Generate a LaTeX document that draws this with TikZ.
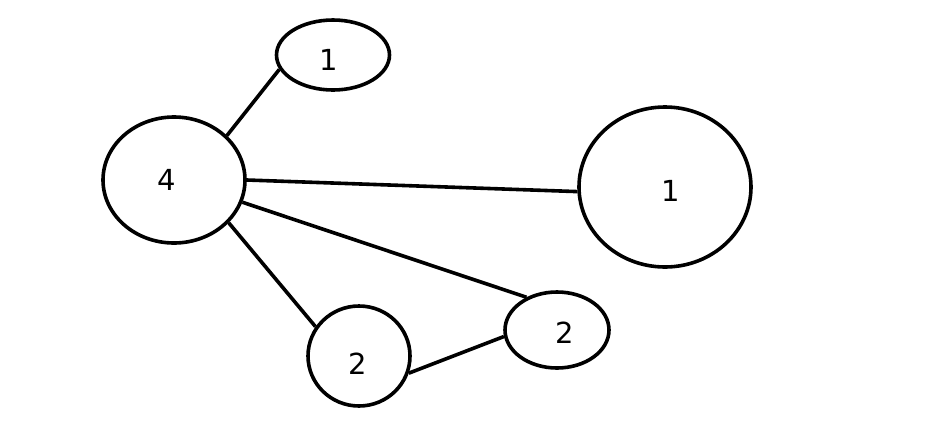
\documentclass[tikz,border=0pt]{standalone}
\usepackage{fontspec}
\setmainfont{DejaVu Sans}
\usetikzlibrary{shapes.geometric}
\begin{document}
\begin{tikzpicture}[x=1pt,y=-1pt,
  vtx/.style={draw,ellipse,line width=3.6pt,inner sep=0pt},
  num/.style={font=\fontsize{29}{32}\selectfont,inner sep=0pt},
  edge/.style={line width=3.6pt}]
\useasboundingbox[fill=white] (0,0) rectangle (940,440);
\node[vtx,minimum width=113pt,minimum height=70pt,label={[num,xshift=-4pt,yshift=-5pt]center:1}] (a) at (333,55) {};
\node[vtx,minimum width=142pt,minimum height=126pt,label={[num,xshift=-7pt]center:4}] (b) at (174,180) {};
\node[vtx,minimum width=172pt,minimum height=160pt,label={[num,xshift=6pt,yshift=-4pt]center:1}] (c) at (665,187) {};
\node[vtx,minimum width=102pt,minimum height=100pt,label={[num,xshift=-1pt,yshift=-8pt]center:2}] (d) at (359,356) {};
\node[vtx,minimum width=104pt,minimum height=76pt,label={[num,xshift=8pt,yshift=-3pt]center:2}] (e) at (557,330) {};
\draw[edge] (b.40) -- (a.195);
\draw[edge] (b.0) -- (c.183);
\draw[edge] (b.-18) -- (e.133);
\draw[edge] (b.-38) -- (d.146);
\draw[edge] (d.-19) -- (e.187);
\end{tikzpicture}
\end{document}
